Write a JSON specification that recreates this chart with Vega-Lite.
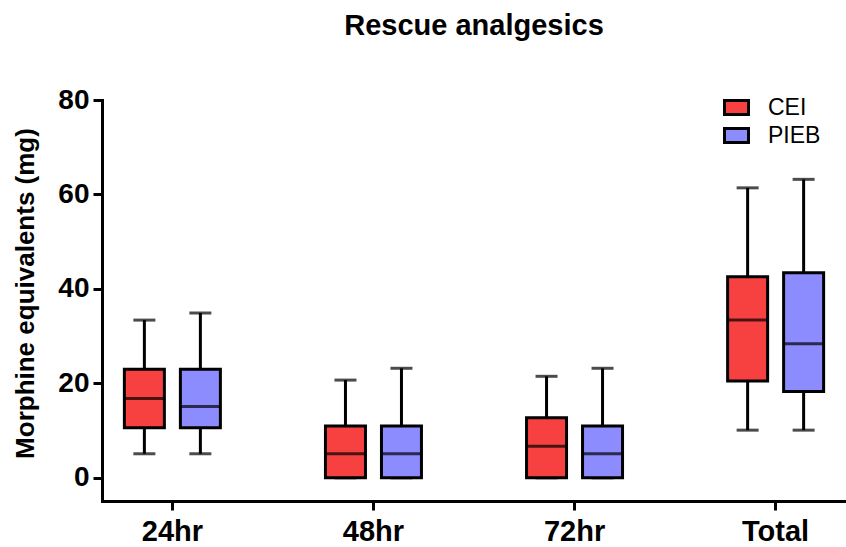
{
  "$schema": "https://vega.github.io/schema/vega-lite/v6.json",
  "autosize": "none",
  "padding": {"left": 102, "top": 100, "right": 0, "bottom": 46},
  "width": 744,
  "height": 401,
  "background": "white",
  "title": {
    "text": "Rescue analgesics",
    "anchor": "middle",
    "frame": "group",
    "font": "Liberation Sans",
    "fontSize": 29,
    "fontWeight": "bold",
    "color": "black",
    "baseline": "alphabetic",
    "offset": 22
  },
  "data": {
    "values": [
      {"time": "24hr", "group": "CEI", "min": 5.1, "q1": 10.6, "median": 16.8, "q3": 23.0, "max": 33.4},
      {"time": "24hr", "group": "PIEB", "min": 5.1, "q1": 10.6, "median": 15.1, "q3": 23.0, "max": 34.9},
      {"time": "48hr", "group": "CEI", "min": 0, "q1": 0, "median": 5.1, "q3": 11.0, "max": 20.7},
      {"time": "48hr", "group": "PIEB", "min": 0, "q1": 0, "median": 5.1, "q3": 11.0, "max": 23.2},
      {"time": "72hr", "group": "CEI", "min": 0, "q1": 0, "median": 6.7, "q3": 12.7, "max": 21.5},
      {"time": "72hr", "group": "PIEB", "min": 0, "q1": 0, "median": 5.1, "q3": 11.0, "max": 23.2},
      {"time": "Total", "group": "CEI", "min": 10.1, "q1": 20.5, "median": 33.4, "q3": 42.6, "max": 61.4},
      {"time": "Total", "group": "PIEB", "min": 10.1, "q1": 18.3, "median": 28.4, "q3": 43.4, "max": 63.2}
    ]
  },
  "encoding": {
    "x": {
      "field": "time",
      "type": "nominal",
      "sort": ["24hr", "48hr", "72hr", "Total"],
      "scale": {"paddingInner": 0.443, "paddingOuter": 0.0715},
      "axis": {
        "title": null,
        "labelAngle": 0,
        "labelFont": "Liberation Sans",
        "labelFontSize": 29,
        "labelFontWeight": "bold",
        "labelColor": "black",
        "labelPadding": 7,
        "tickSize": 9,
        "tickWidth": 3,
        "tickColor": "black",
        "domainWidth": 3,
        "domainColor": "black",
        "domainCap": "square",
        "grid": false
      }
    },
    "xOffset": {
      "field": "group",
      "type": "nominal",
      "sort": ["CEI", "PIEB"],
      "scale": {"paddingInner": 0, "paddingOuter": 0}
    }
  },
  "layer": [
    {
      "mark": {"type": "rule", "color": "black", "strokeWidth": 3},
      "encoding": {
        "y": {
          "field": "min",
          "type": "quantitative",
          "scale": {"domain": [-4.9, 80], "nice": false, "zero": false},
          "axis": {
            "title": "Morphine equivalents (mg)",
            "values": [0, 20, 40, 60, 80],
            "titleFont": "Liberation Sans",
            "titleFontSize": 26,
            "titleFontWeight": "bold",
            "titleColor": "black",
            "titlePadding": 19,
            "titleY": 193,
            "labelFont": "Liberation Sans",
            "labelFontSize": 28,
            "labelFontWeight": "bold",
            "labelColor": "black",
            "labelPadding": 4,
            "tickSize": 9,
            "tickWidth": 3,
            "tickColor": "black",
            "domainWidth": 3,
            "domainColor": "black",
            "domainCap": "square",
            "grid": false
          }
        },
        "y2": {"field": "max"}
      }
    },
    {
      "mark": {"type": "tick", "color": "black", "thickness": 3, "size": 22, "orient": "horizontal"},
      "encoding": {"y": {"field": "max", "type": "quantitative"}}
    },
    {
      "mark": {"type": "tick", "color": "black", "thickness": 3, "size": 22, "orient": "horizontal"},
      "encoding": {"y": {"field": "min", "type": "quantitative"}}
    },
    {
      "mark": {"type": "bar", "stroke": "black", "strokeWidth": 3, "width": 40, "opacity": 1},
      "encoding": {
        "y": {"field": "q1", "type": "quantitative"},
        "y2": {"field": "q3"},
        "fill": {
          "field": "group",
          "type": "nominal",
          "scale": {"domain": ["CEI", "PIEB"], "range": ["#F74141", "#8C8CFF"]},
          "legend": {
            "title": null,
            "orient": "none",
            "legendX": 621,
            "legendY": -6,
            "padding": 0,
            "symbolType": "M-1,-0.58H1V0.58H-1Z",
            "symbolSize": 576,
            "symbolStrokeColor": "black",
            "symbolStrokeWidth": 3,
            "symbolOpacity": 1,
            "symbolFillOpacity": 1,
            "labelFont": "Liberation Sans",
            "labelFontSize": 23,
            "labelColor": "black",
            "labelOffset": 18,
            "rowPadding": 1
          }
        }
      }
    },
    {
      "mark": {"type": "tick", "color": "black", "thickness": 3, "size": 40, "orient": "horizontal"},
      "encoding": {"y": {"field": "median", "type": "quantitative"}}
    }
  ],
  "config": {
    "view": {"stroke": null}
  }
}
